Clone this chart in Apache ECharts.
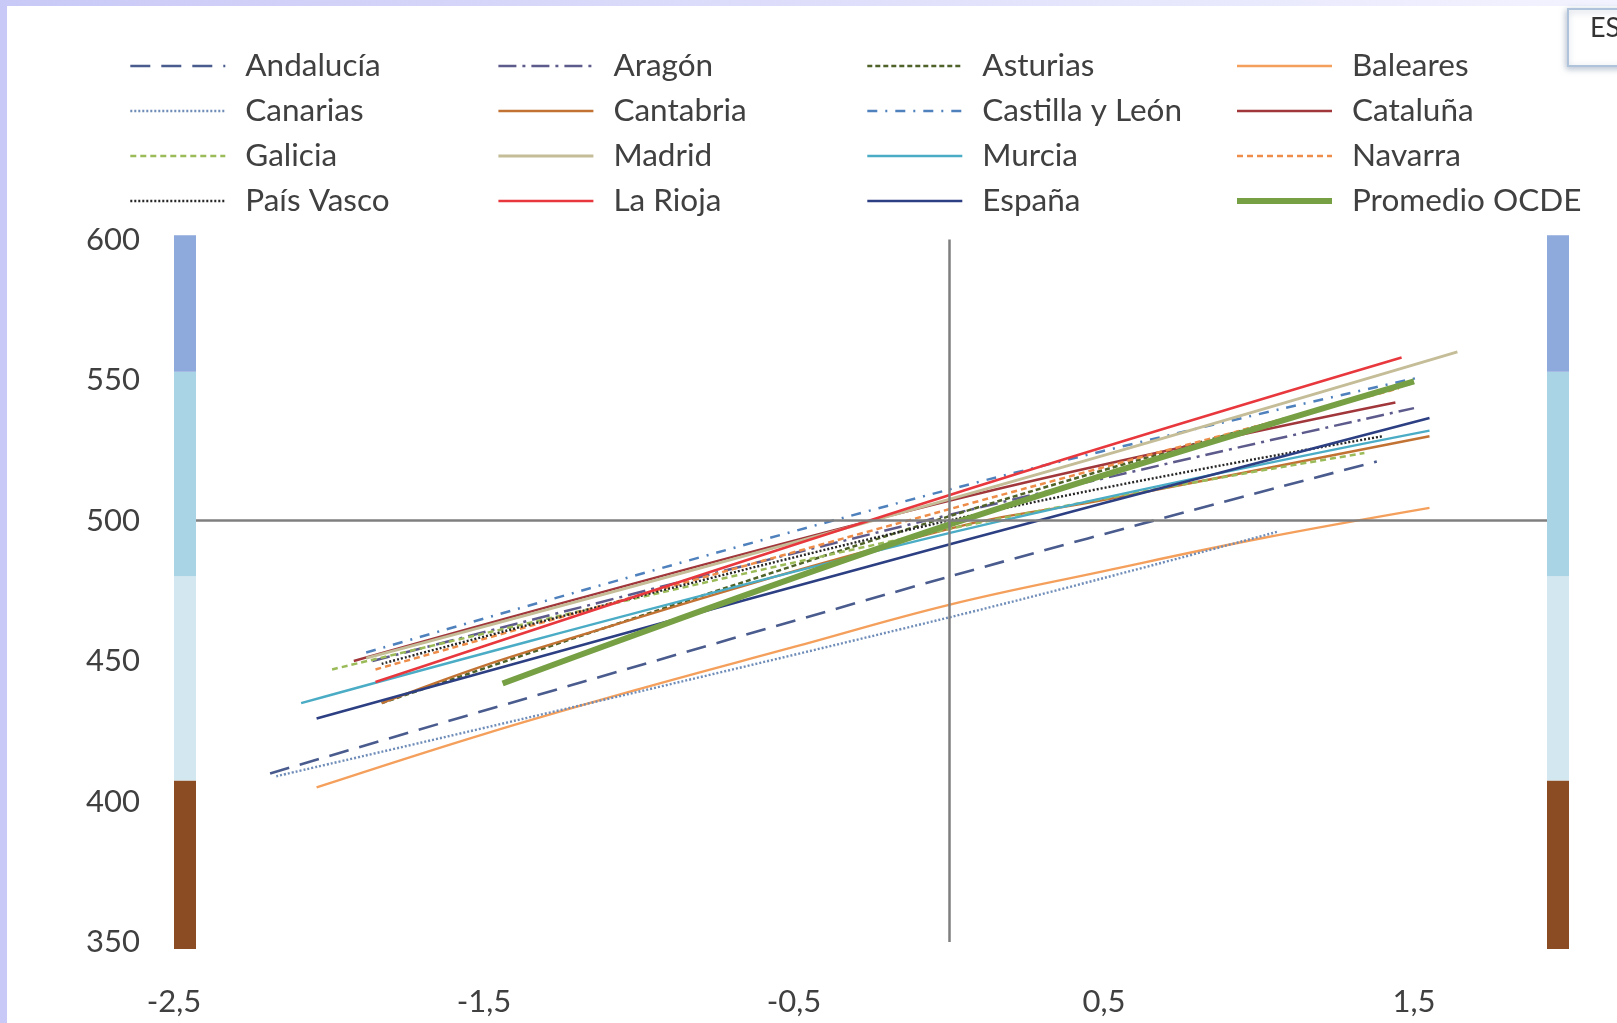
<!DOCTYPE html>
<html><head><meta charset="utf-8">
<script src="https://cdn.jsdelivr.net/npm/echarts@6/dist/echarts.min.js"></script>
<style>html,body{margin:0;padding:0;background:#fff}#c{width:1617px;height:1023px}</style>
</head><body><div id="c"></div>
<script>
// ---- data ----
const xTicks = [-2.5, -1.5, -0.5, 0.5, 1.5];
const yTicks = [350, 400, 450, 500, 550, 600];
const levelBounds = [347.5, 407.5, 480.2, 552.9, 601.5];

const andalucia = [[-2.19, 410], [0, 480], [1.38, 521]];
const aragon = [[-1.86, 450], [0, 502], [1.50, 540]];
const asturias = [[-1.83, 435], [0, 501.5], [1.50, 549]];
const baleares = [[-2.04, 405], [-1.5, 424], [-1.0, 440], [-0.5, 455], [0, 470], [0.5, 482], [1.0, 493.5], [1.55, 504.5]];
const canarias = [[-2.17, 409], [0, 465.5], [1.06, 496]];
const cantabria = [[-1.83, 435], [-1.37, 453], [0, 497], [0.51, 507.5], [1.55, 530]];
const castillaLeon = [[-1.88, 453], [0, 511], [1.52, 551]];
const cataluna = [[-1.92, 450], [0, 507], [1.44, 542]];
const galicia = [[-1.99, 447], [0, 497], [1.34, 524]];
const madrid = [[-1.88, 451], [0, 507.5], [1.64, 560]];
const murcia = [[-2.09, 435], [0, 495.5], [1.55, 532]];
const navarra = [[-1.85, 447], [0, 504], [1.45, 547]];
const paisVasco = [[-1.83, 449], [0, 500], [1.40, 530]];
const laRioja = [[-1.85, 442.5], [0, 509], [1.46, 558]];
const espana = [[-2.04, 429.5], [0, 491.5], [1.55, 536.5]];
const ocde = [[-1.44, 442], [0, 498.5], [1.50, 549.5]];

const seriesNames = ['Andalucía','Aragón','Asturias','Baleares','Canarias','Cantabria','Castilla y León','Cataluña','Galicia','Madrid','Murcia','Navarra','País Vasco','La Rioja','España','Promedio OCDE'];
const seriesData = [andalucia, aragon, asturias, baleares, canarias, cantabria, castillaLeon, cataluna, galicia, madrid, murcia, navarra, paisVasco, laRioja, espana, ocde];

// ---- styles ----
const styles = {
  'Andalucía': {color:'#4A5B8E', width:2.6, type:[20,11]},
  'Aragón': {color:'#5D5A8C', width:2.5, type:[18,6,3,6]},
  'Asturias': {color:'#4F6228', width:2.5, type:[5,3]},
  'Baleares': {color:'#F4A05C', width:2.4, type:'solid'},
  'Canarias': {color:'#6F8DB8', width:2.4, type:[2,2]},
  'Cantabria': {color:'#C27333', width:2.4, type:'solid'},
  'Castilla y León': {color:'#4F81BD', width:2.5, type:[10,8,2,8]},
  'Cataluña': {color:'#A1373B', width:2.4, type:'solid'},
  'Galicia': {color:'#9BBB59', width:2.5, type:[6,4]},
  'Madrid': {color:'#C4BD97', width:2.8, type:'solid'},
  'Murcia': {color:'#4BACC6', width:2.4, type:'solid'},
  'Navarra': {color:'#EE8D49', width:2.5, type:[6,4]},
  'País Vasco': {color:'#262626', width:2.4, type:[2,2]},
  'La Rioja': {color:'#E8383D', width:2.6, type:'solid'},
  'España': {color:'#2D3F83', width:2.6, type:'solid'},
  'Promedio OCDE': {color:'#77A045', width:6, type:'solid'}
};
const levelColors = ['#8B4C23', '#D2E7F0', '#A8D4E6', '#8EA9DB'];
const legendColumns = [
  ['Andalucía','Canarias','Galicia','País Vasco'],
  ['Aragón','Cantabria','Madrid','La Rioja'],
  ['Asturias','Castilla y León','Murcia','España'],
  ['Baleares','Cataluña','Navarra','Promedio OCDE']
];
const legendLeft = [129, 497, 866, 1234];
const FONT = 'Lato, "Open Sans", sans-serif';
const fmt = v => String(v).replace('.', ',');

const chart = echarts.init(document.getElementById('c'), null, {renderer:'canvas'});

const bandItems = [];
['left','right'].forEach(side => {
  for (let i = 0; i < levelColors.length; i++) bandItems.push([levelBounds[i], levelBounds[i+1], side === 'left' ? 0 : 1, i]);
});

const series = [{
  type:'line', name:'__axes', data:[], z:1, silent:true,
  markLine:{silent:true, symbol:['none','none'], label:{show:false}, animation:false,
    lineStyle:{color:'#7F7F7F', width:2.5, type:'solid'},
    data:[{xAxis:0}, {yAxis:500}]}
}, {
  type:'custom', name:'__levels', z:5, silent:true, clip:false,
  data: bandItems,
  renderItem: (params, api) => {
    const cs = params.coordSys;
    const bw = 22;
    const yLo = api.coord([0, api.value(0)])[1];
    const yHi = api.coord([0, api.value(1)])[1];
    const x = api.value(2) === 0 ? cs.x : cs.x + cs.width - bw;
    return {type:'rect', shape:{x:x, y:yHi, width:bw, height:yLo - yHi},
      style:{fill: levelColors[api.value(3)]}};
  }
}];
seriesNames.forEach((n, i) => {
  const s = styles[n];
  series.push({type:'line', name:n, data:seriesData[i], symbol:'none', smooth:0.4, z:3,
    lineStyle:{color:s.color, width:s.width, type:s.type}, itemStyle:{color:s.color}});
});

chart.setOption({
  animation:false,
  backgroundColor:'#ffffff',
  grid:{left:174, right:48, top:239.5, bottom:81, containLabel:false},
  xAxis:{type:'value', min:-2.5, max:2.0,
    axisLine:{show:false}, axisTick:{show:false}, splitLine:{show:false},
    axisLabel:{customValues:xTicks, formatter:fmt, margin:44, fontFamily:FONT, fontSize:31, color:'#404040'}},
  yAxis:{type:'value', min:350, max:600, interval:50,
    axisLine:{show:false}, axisTick:{show:false}, splitLine:{show:false},
    axisLabel:{margin:34, fontFamily:FONT, fontSize:31, color:'#404040'}},
  legend: legendColumns.map((names, i) => ({
    orient:'vertical', left:legendLeft[i], top:49, padding:0,
    itemWidth:95, itemHeight:14, itemGap:11, selectedMode:false,
    data:names,
    itemStyle:{color:'rgba(0,0,0,0)', borderWidth:0, opacity:0},
    lineStyle:{width:'inherit'},
    textStyle:{fontFamily:FONT, fontSize:31.5, color:'#404040', lineHeight:34, padding:[0,0,0,15]}
  })),
  graphic:[
    {type:'rect', left:0, top:0, shape:{width:7, height:1023}, style:{fill:'#C9C9F7'}, z:100},
    {type:'rect', left:0, top:0, shape:{width:1617, height:6},
      style:{fill:new echarts.graphic.LinearGradient(0,0,1,0,[{offset:0,color:'#C9C9F7'},{offset:1,color:'#F3F3FF'}])}, z:100},
    {type:'rect', shape:{x:1568, y:9, width:60, height:57}, style:{fill:'#ffffff', stroke:'#AFC4DA', lineWidth:2, shadowBlur:6, shadowColor:'rgba(120,140,170,0.5)', shadowOffsetX:-1, shadowOffsetY:2}, z:100},
    {type:'text', x:1590, y:15, style:{text:'ES', font:'27px ' + FONT, fill:'#333333'}, z:101}
  ],
  series:series
});
</script></body></html>
